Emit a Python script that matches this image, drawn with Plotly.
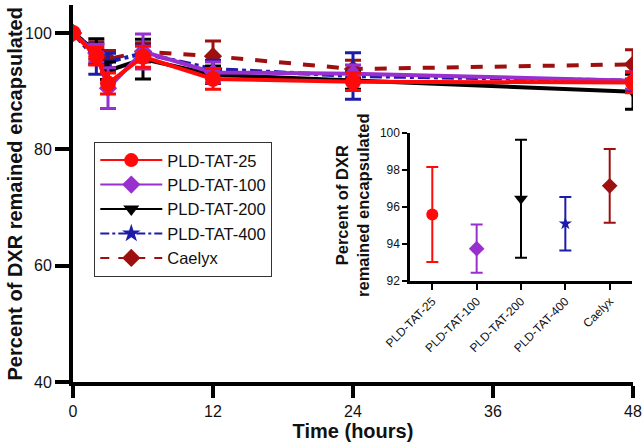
import plotly.graph_objects as go

times = [0, 2, 3, 6, 12, 24, 48]
names = ["PLD-TAT-25", "PLD-TAT-100", "PLD-TAT-200", "PLD-TAT-400", "Caelyx"]
tat25 = [100, 96.0, 91.3, 95.9, 92.1, 91.6, 91.5]
tat25_err = [0, 1.5, 1.8, 1.8, 1.8, 1.5, 1.8]
tat100 = [100, 96.5, 90.5, 96.8, 93.2, 93.0, 91.8]
tat100_err = [0, 1.5, 3.5, 3.0, 1.8, 1.5, 1.5]
tat200 = [100, 96.8, 93.5, 95.5, 92.8, 91.8, 89.9]
tat200_err = [0, 2.2, 1.5, 3.4, 1.5, 1.5, 3.0]
tat400 = [100, 95.5, 95.0, 96.5, 93.8, 92.6, 91.8]
tat400_err = [0, 2.6, 1.5, 1.5, 1.5, 4.0, 1.5]
caelyx = [100, 97.0, 95.5, 96.8, 96.0, 93.8, 94.6]
caelyx_err = [0, 1.5, 1.5, 1.5, 2.6, 1.5, 2.5]

inset_vals = [95.6, 93.75, 96.45, 95.1, 97.15]
inset_err = [2.57, 1.3, 3.2, 1.45, 2.0]

colors = ["#ff0a0a", "#9a2fd0", "#000000", "#1c1ca8", "#9e1010"]
symbols = ["circle", "diamond", "triangle-down", "star", "diamond"]
dashes = ["solid", "solid", "solid", "dashdot", "dash"]
msizes = [16, 14, 13, 12, 14]

series = [tat25, tat100, tat200, tat400, caelyx]
errs = [tat25_err, tat100_err, tat200_err, tat400_err, caelyx_err]

fig = go.Figure()
FONT = "Arial, Liberation Sans, sans-serif"
TXT = "#111111"

for i in [4, 3, 2, 1, 0]:
    fig.add_trace(go.Scatter(
        x=times, y=series[i], name=names[i], mode="lines+markers", showlegend=False,
        line=dict(color=colors[i], width=4, dash=dashes[i]),
        marker=dict(symbol=symbols[i], size=msizes[i], color=colors[i]),
        error_y=dict(type="data", array=errs[i], color=colors[i], thickness=3, width=8),
        xaxis="x", yaxis="y",
    ))

# legend-only entries with thin lines (as in the reference legend)
for i in range(5):
    fig.add_trace(go.Scatter(
        x=[None], y=[None], name=names[i], mode="lines+markers",
        line=dict(color=colors[i], width=2, dash=dashes[i]),
        marker=dict(symbol=symbols[i], size=14, color=colors[i]),
        legendrank=i + 1, xaxis="x", yaxis="y",
    ))

for i in range(5):
    fig.add_trace(go.Scatter(
        x=[names[i]], y=[inset_vals[i]], mode="markers", showlegend=False,
        marker=dict(symbol=symbols[i], size=[12, 12, 12, 10, 12][i], color=colors[i]),
        error_y=dict(type="data", array=[inset_err[i]], color=colors[i], thickness=2, width=6),
        xaxis="x2", yaxis="y2",
    ))

fig.update_layout(
    width=643, height=447,
    margin=dict(l=73, r=10, t=5, b=65),
    paper_bgcolor="white", plot_bgcolor="white",
    font=dict(family=FONT, color=TXT),
    showlegend=True,
    legend=dict(
        x=0.038, y=0.637, xanchor="left", yanchor="top",
        bordercolor="#333333", borderwidth=1, bgcolor="white",
        font=dict(size=16.5, family=FONT, color=TXT),
        itemwidth=62, tracegroupgap=0,
    ),
    xaxis=dict(
        domain=[0, 1], range=[0, 48], tickvals=[0, 12, 24, 36, 48], automargin=False,
        showgrid=False, zeroline=False, showline=True, linecolor="black", linewidth=4,
        ticks="outside", ticklen=12, tickwidth=4, tickcolor="black",
        tickfont=dict(size=16, family=FONT, color=TXT),
        title=dict(text="<b>Time (hours)</b>", font=dict(size=20, family=FONT, color=TXT), standoff=6),
    ),
    yaxis=dict(
        domain=[0, 1], range=[40, 104.8], tickvals=[40, 60, 80, 100], automargin=False,
        showgrid=False, zeroline=False, showline=True, linecolor="black", linewidth=4,
        ticks="outside", ticklen=14, tickwidth=4, tickcolor="black",
        tickfont=dict(size=16, family=FONT, color=TXT),
    ),
    xaxis2=dict(
        domain=[0.602, 0.998], range=[-0.5, 4.5], anchor="y2", automargin=False,
        type="category", categoryorder="array", categoryarray=names,
        showgrid=False, zeroline=False, showline=True, linecolor="black", linewidth=2.5,
        ticks="outside", ticklen=6, tickwidth=2, tickcolor="black", tickangle=-45,
        tickfont=dict(size=12, family=FONT, color=TXT),
    ),
    yaxis2=dict(
        domain=[0.268, 0.660], range=[92, 100], anchor="x2", tickvals=[92, 94, 96, 98, 100],
        automargin=False,
        showgrid=False, zeroline=False, showline=True, linecolor="black", linewidth=2.5,
        ticks="outside", ticklen=5, tickwidth=2, tickcolor="black",
        tickfont=dict(size=12, family=FONT, color=TXT),
    ),
    annotations=[
        dict(
            text="<b>Percent of DXR remained encapsulated</b>", textangle=-90,
            xref="paper", yref="paper", x=-0.1036, y=0.5, xanchor="center", yanchor="middle",
            showarrow=False, font=dict(size=20, family=FONT, color=TXT),
        ),
        dict(
            text="<b>Percent of DXR<br>remained encapsulated</b>", textangle=-90,
            xref="paper", yref="paper", x=0.5, y=0.467, xanchor="center", yanchor="middle",
            showarrow=False, font=dict(size=16.5, family=FONT, color=TXT),
        ),
    ],
)

fig.write_html("out.html", config={"displayModeBar": False},
               post_script="document.body.style.margin='0';document.body.style.overflow='hidden';")
